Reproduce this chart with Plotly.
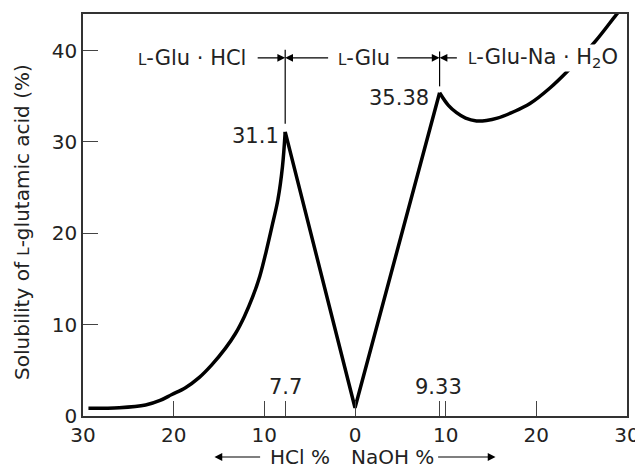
import plotly.graph_objects as go

# Left branch (HCl side, x negative = HCl %)
hcl_x = [-29.4, -26.0, -23.1, -21.5, -20.2, -18.7, -17.2, -15.8, -14.3, -13.2, -12.2, -11.3, -10.5, -9.8, -9.1, -8.5, -8.0, -7.7]
hcl_y = [0.84, 0.9, 1.2, 1.7, 2.35, 3.1, 4.2, 5.6, 7.4, 9.0, 10.9, 13.0, 15.3, 18.0, 21.0, 23.7, 27.3, 31.1]

# V-shaped middle region (L-Glu)
v_x = [-7.7, 0.0, 9.33]
v_y = [31.1, 0.9, 35.38]

# Right branch (NaOH side)
naoh_x = [9.33, 10.3, 11.2, 12.2, 13.4, 14.5, 15.7, 17.5, 19.3, 21.5, 23.6, 26.5, 28.8, 29.7]
naoh_y = [35.38, 34.0, 33.2, 32.6, 32.3, 32.35, 32.6, 33.3, 34.2, 35.9, 37.9, 41.0, 43.9, 45.0]

x_tickvals = [-30, -20, -10, -7.7, 0, 9.33, 10, 20, 30]
x_ticktext = ["30", "20", "10", "", "0", "", "10", "20", "30"]
y_tickvals = [0, 10, 20, 30, 40]

peak_hcl = (-7.7, 31.1)
peak_naoh = (9.33, 35.38)

FONT = "DejaVu Sans"
SC = "<span style='font-size:15px'>L</span>"

fig = go.Figure()
line = dict(color="black", width=3.5)
fig.add_trace(go.Scatter(x=hcl_x, y=hcl_y, mode="lines", line=dict(line, shape="spline", smoothing=1.0)))
fig.add_trace(go.Scatter(x=v_x, y=v_y, mode="lines", line=line))
fig.add_trace(go.Scatter(x=naoh_x, y=naoh_y, mode="lines", line=dict(line, shape="spline", smoothing=1.0)))

# vertical marker lines above the peaks
fig.add_trace(go.Scatter(x=[peak_hcl[0], peak_hcl[0]], y=[peak_hcl[1] + 0.9, 40.1], mode="lines",
                         line=dict(color="black", width=1.2)))
fig.add_trace(go.Scatter(x=[peak_naoh[0], peak_naoh[0]], y=[peak_naoh[1] + 0.7, 39.9], mode="lines",
                         line=dict(color="black", width=1.2)))

tf = dict(family=FONT, size=20, color="#222")
af = dict(family=FONT, size=21, color="#222")
arrow_y = 39.2

def arrow(head_x, tail_x, y, yref="y"):
    fig.add_annotation(x=head_x, y=y, ax=tail_x, ay=0, xref="x", yref=yref, axref="x", ayref="pixel",
                       text="", showarrow=True, arrowhead=2, arrowsize=1.3, arrowwidth=1.2,
                       arrowcolor="black")

arrow(peak_hcl[0], -10.9, arrow_y)
arrow(peak_hcl[0], -2.8, arrow_y)
arrow(peak_naoh[0], 4.5, arrow_y)
arrow(peak_naoh[0], 11.4, arrow_y)

fig.add_annotation(x=-17.95, y=arrow_y, xref="x", yref="y", showarrow=False,
                   text=SC + "-Glu · HCl", font=af)
fig.add_annotation(x=1.0, y=arrow_y, xref="x", yref="y", showarrow=False,
                   text=SC + "-Glu", font=af)
fig.add_annotation(x=20.7, y=arrow_y, xref="x", yref="y", showarrow=False,
                   text=SC + "-Glu-Na · H<sub>2</sub>O", font=af, bgcolor="white", borderpad=0)

fig.add_annotation(x=peak_hcl[0] - 0.5, y=30.6, xref="x", yref="y", showarrow=False,
                   text="31.1", font=af, xanchor="right")
fig.add_annotation(x=peak_naoh[0] - 1.0, y=34.8, xref="x", yref="y", showarrow=False,
                   text="35.38", font=af, xanchor="right")
fig.add_annotation(x=peak_hcl[0], y=3.2, xref="x", yref="y", showarrow=False,
                   text="7.7", font=af)
fig.add_annotation(x=peak_naoh[0] - 0.1, y=3.2, xref="x", yref="y", showarrow=False,
                   text="9.33", font=af)

# bottom direction labels
by = -0.102
fig.add_annotation(x=-6.1, y=by, xref="x", yref="paper", showarrow=False, text="HCl %", font=tf,
                   xanchor="center", yanchor="middle")
fig.add_annotation(x=4.1, y=by, xref="x", yref="paper", showarrow=False, text="NaOH %", font=tf,
                   xanchor="center", yanchor="middle")
arrow(-15.5, -10.3, by, yref="paper")
arrow(15.5, 9.0, by, yref="paper")

# y-axis title
fig.add_annotation(x=-0.112, y=0.483, xref="paper", yref="paper", showarrow=False, textangle=-90,
                   text="Solubility of " + SC + "-glutamic acid (%)", font=tf,
                   xanchor="center", yanchor="middle")

axis_common = dict(showline=True, linecolor="#333", linewidth=1.5, mirror=True,
                   ticks="inside", ticklen=15, tickcolor="#444", tickwidth=1,
                   showgrid=False, zeroline=False, tickfont=tf, automargin=False)

fig.update_xaxes(range=[-30, 30], tickvals=x_tickvals, ticktext=x_ticktext, **axis_common)
fig.update_yaxes(range=[0, 44], tickvals=y_tickvals, ticktext=[str(v) for v in y_tickvals],
                 **axis_common)

# page body adds an 8px offset, so the figure is drawn 8px smaller with margins shifted
fig.update_layout(width=635, height=461, margin=dict(l=75, r=16, t=6, b=53),
                  plot_bgcolor="white", paper_bgcolor="white", showlegend=False)

fig.write_html("out.html")
